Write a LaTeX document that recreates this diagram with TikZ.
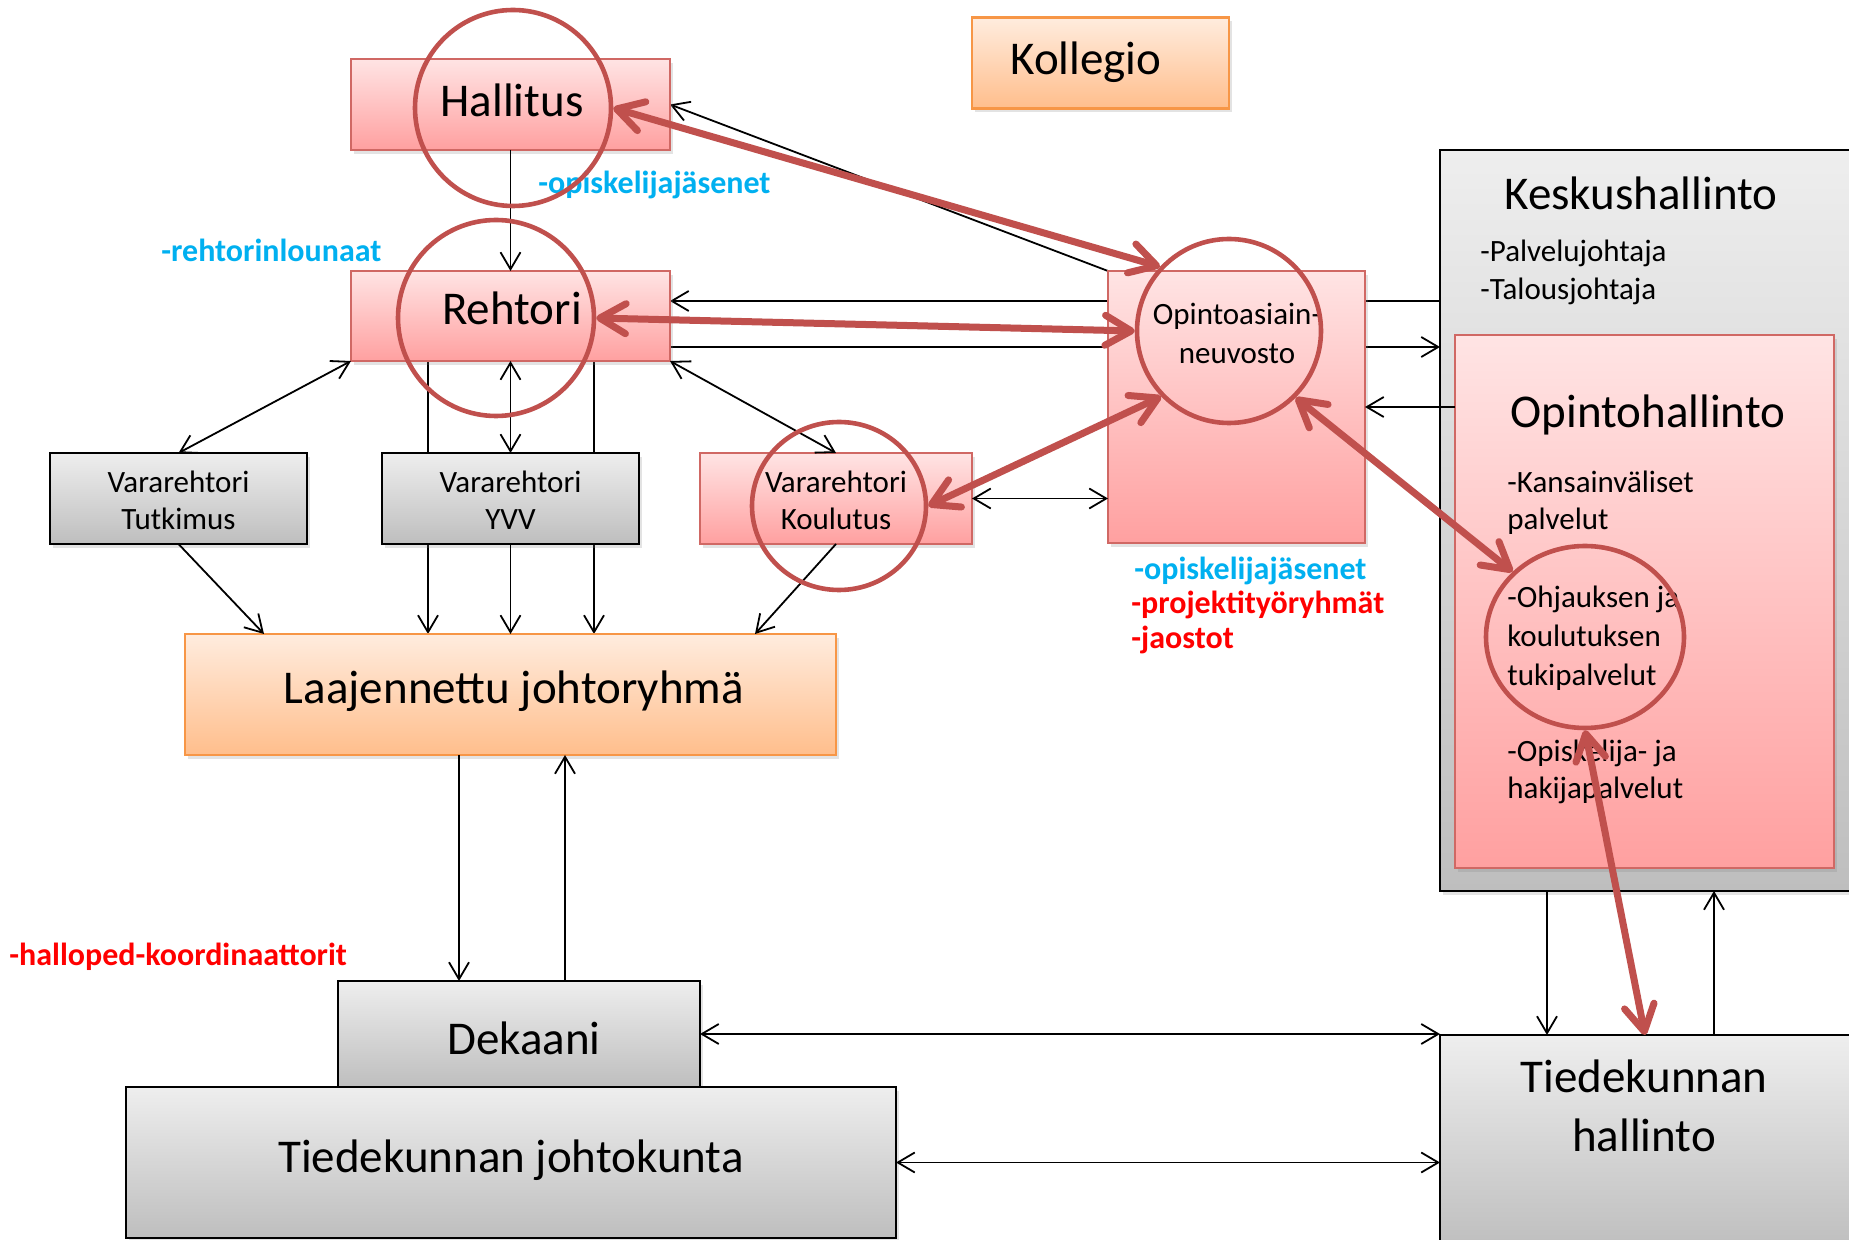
\documentclass[tikz,border=0pt]{standalone}
\usepackage{fontspec}
\setmainfont{Carlito}
\usetikzlibrary{arrows.meta,shapes.geometric,shadows}
\definecolor{accred}{RGB}{192,80,77}
\definecolor{pinkborder}{RGB}{208,104,100}
\definecolor{pinktop}{RGB}{255,228,228}
\definecolor{pinkbot}{RGB}{255,160,160}
\definecolor{orangetop}{RGB}{255,236,222}
\definecolor{orangebot}{RGB}{255,190,140}
\definecolor{orangeborder}{RGB}{247,150,70}
\definecolor{graytop}{RGB}{238,238,238}
\definecolor{graybot}{RGB}{190,190,190}
\definecolor{lblblue}{RGB}{0,176,240}
\definecolor{lblred}{RGB}{255,0,0}
\pgfdeclarelayer{bg}
\pgfdeclarelayer{fg}
\pgfsetlayers{bg,main,fg}
\newcommand{\fbig}{\fontsize{23.5}{28}\selectfont}
\newcommand{\fmid}{\fontsize{15.5}{19}\selectfont}
\newcommand{\flbl}{\fontsize{16}{19}\selectfont\bfseries}
\tikzset{
  sz/.style 2 args={minimum width=#1*0.5pt, minimum height=#2*0.5pt},
  box/.style={rectangle, inner sep=0pt, outer sep=0pt,
    drop shadow={shadow xshift=1.5pt, shadow yshift=-2pt, opacity=0.22}},
  pinkbox/.style={box, draw=pinkborder, line width=1pt, top color=pinktop, bottom color=pinkbot},
  orangebox/.style={box, draw=orangeborder, line width=1.2pt, top color=orangetop, bottom color=orangebot},
  graybox/.style={box, draw=black, line width=1.2pt, top color=graytop, bottom color=graybot},
  redring/.style={circle, draw=accred, line width=2.3pt, inner sep=0pt},
  redoval/.style={ellipse, draw=accred, line width=2.3pt, inner sep=0pt},
  conn/.style={draw=black, line width=0.9pt},
  arr/.style={conn, -{Straight Barb[length=8.5pt,width=10pt]}},
  darr/.style={conn, {Straight Barb[length=8.5pt,width=10pt]}-{Straight Barb[length=8.5pt,width=10pt]}},
  redarr/.style={draw=accred, line width=3.5pt, line cap=round,
    {Straight Barb[length=13pt,width=15pt,round]}-{Straight Barb[length=13pt,width=15pt,round]}},
  tbig/.style={inner sep=0pt, anchor=base, font=\fbig},
  tmid/.style={inner sep=0pt, anchor=base, font=\fmid},
  tmidl/.style={inner sep=0pt, anchor=base west, font=\fmid},
  lblb/.style={inner sep=0pt, anchor=base west, font=\flbl, text=lblblue},
  lblr/.style={inner sep=0pt, anchor=base west, font=\flbl, text=lblred}
}
\begin{document}
\begin{tikzpicture}[x=0.5pt,y=-0.5pt]
\begin{pgfonlayer}{bg}
  \fill[white] (0,0) rectangle (1849,1240);
\end{pgfonlayer}
\useasboundingbox (0,0) rectangle (1849,1240);

% helper coordinates
\coordinate (y301) at (0,301);
\coordinate (y347) at (0,347);
\coordinate (y407) at (0,407);
\coordinate (x264) at (264,0);
\coordinate (x428) at (428,0);
\coordinate (x459) at (459,0);
\coordinate (x565) at (565,0);
\coordinate (x594) at (594,0);
\coordinate (x755) at (755,0);
\coordinate (x1547) at (1547,0);
\coordinate (x1714) at (1714,0);

% boxes
\node[pinkbox, sz={319}{91}] (hb) at (510.5,104.5) {};
\node[pinkbox, sz={319}{90}] (rb) at (510.5,316) {};
\node[orangebox, sz={257}{91}] (kol) at (1100.5,63) {};
\node[graybox, sz={257}{91}] (vt) at (178.5,498.5) {};
\node[graybox, sz={257}{91}] (vy) at (510.5,498.5) {};
\node[pinkbox, sz={272}{91}] (vk) at (836,498.5) {};
\node[pinkbox, sz={257}{272}] (ob) at (1236.5,407) {};
\node[graybox, sz={430}{741}] (kh) at (1655,520.5) {};
\node[pinkbox, sz={379}{533}] (oh) at (1644.5,601.5) {};
\node[orangebox, sz={651}{121}] (lj) at (510.5,694.5) {};
\node[graybox, sz={362}{106}] (de) at (519,1034) {};
\node[graybox, sz={770}{151}] (tj) at (511,1162.5) {};
\node[graybox, sz={430}{215}] (th) at (1655,1142.5) {};

% connectors hidden behind boxes
\begin{pgfonlayer}{bg}
  \draw[arr] (ob.north west) -- (hb.east);
  \draw[arr] (kh.west |- y301) -- (rb.east |- y301);
  \draw[arr] (rb.east |- y347) -- (kh.west |- y347);
  \draw[arr] (x428 |- rb.south) -- (x428 |- lj.north);
  \draw[arr] (x594 |- rb.south) -- (x594 |- lj.north);
\end{pgfonlayer}

% visible connectors
\draw[arr] (hb.south) -- (rb.north);
\draw[arr] (oh.west |- y407) -- (ob.east |- y407);
\draw[darr] (rb.south west) -- (vt.north);
\draw[darr] (rb.south) -- (vy.north);
\draw[arr] (vy.south) -- (lj.north);
\draw[darr] (rb.south east) -- (vk.north);
\draw[darr] (vk.east) -- (vk.east -| ob.west);
\draw[arr] (vt.south) -- (x264 |- lj.north);
\draw[arr] (vk.south) -- (x755 |- lj.north);
\draw[arr] (x459 |- lj.south) -- (x459 |- de.north);
\draw[arr] (x565 |- de.north) -- (x565 |- lj.south);
\draw[darr] (de.east) -- (de.east -| th.west);
\draw[darr] (tj.east) -- (tj.east -| th.west);
\draw[arr] (x1547 |- kh.south) -- (x1547 |- th.north);
\draw[arr] (x1714 |- th.north) -- (x1714 |- kh.south);

% texts
\node[tbig] (thal) at (512,117) {Hallitus};
\node[tbig] (treh) at (512,325) {Rehtori};
\node[tbig] (tkol) at (1086,75) {Kollegio};
\node[tbig] (tkes) at (1641,210) {Keskushallinto};
\node[tmidl] (tpal) at (1480,262) {-Palvelujohtaja};
\node[tmidl] (ttal) at (1480,300) {-Talousjohtaja};
\node[tbig] (topi) at (1648,428) {Opintohallinto};
\node[tmidl] (tkan1) at (1507,493) {-Kansainväliset};
\node[tmidl] (tkan2) at (1507,530) {palvelut};
\node[tmidl] (tohj1) at (1507,608) {-Ohjauksen ja};
\node[tmidl] (tohj2) at (1507,647) {koulutuksen};
\node[tmidl] (tohj3) at (1507,686) {tukipalvelut};
\node[tmidl] (tops1) at (1507,762) {-Opiskelija- ja};
\node[tmidl] (tops2) at (1507,799) {hakijapalvelut};
\node[tmid] (tvt1) at (178.5,493) {Vararehtori};
\node[tmid] (tvt2) at (178.5,530) {Tutkimus};
\node[tmid] (tvy1) at (510.5,493) {Vararehtori};
\node[tmid] (tvy2) at (510.5,530) {YVV};
\node[tmid] (tvk1) at (836,493) {Vararehtori};
\node[tmid] (tvk2) at (836,530) {Koulutus};
\node[tmid] (tob1) at (1237,325) {Opintoasiain-};
\node[tmid] (tob2) at (1237,364) {neuvosto};
\node[tbig] (tlj) at (514,704) {Laajennettu johtoryhmä};
\node[tbig] (tde) at (524,1054) {Dekaani};
\node[tbig] (ttj) at (511,1172) {Tiedekunnan johtokunta};
\node[tbig] (tth1) at (1644,1092) {Tiedekunnan};
\node[tbig] (tth2) at (1644,1151) {hallinto};

\node[lblb] (l1) at (538,194) {-opiskelijajäsenet};
\node[lblb] (l2) at (161,262) {-rehtorinlounaat};
\node[lblb] (l3) at (1134,580) {-opiskelijajäsenet};
\node[lblr] (l4) at (1131,614) {-projektityöryhmät};
\node[lblr] (l5) at (1131,649) {-jaostot};
\node[lblr] (l6) at (9,965) {-halloped-koordinaattorit};

% red highlight circles and arrows
\begin{pgfonlayer}{fg}
  \node[redring, minimum size=98pt] (hc) at (513,108) {};
  \node[redring, minimum size=98pt] (rc) at (496,318) {};
  \node[redoval, minimum width=87pt, minimum height=84pt] (kc) at (839,506) {};
  \node[redring, minimum size=92pt] (oc) at (1229,331) {};
  \node[redoval, minimum width=99pt, minimum height=91pt] (tc) at (1585,637) {};
  \draw[redarr] (hc.0) -- (oc.137);
  \draw[redarr] (rc.0) -- (oc.180);
  \draw[redarr] (kc.0) -- (oc.224);
  \draw[redarr] (oc.315) -- (tc.138);
  \draw[redarr] (tc.270) -- ([xshift=-5pt]th.north);
\end{pgfonlayer}
\end{tikzpicture}
\end{document}
